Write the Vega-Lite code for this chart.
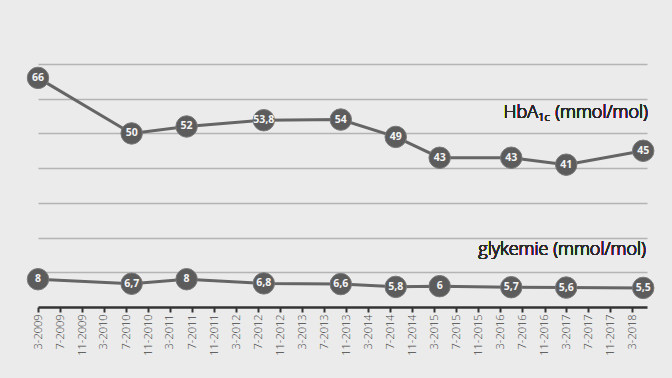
{
  "$schema": "https://vega.github.io/schema/vega-lite/v6.json",
  "width": 609,
  "height": 243,
  "autosize": {"type": "none"},
  "padding": {"left": 38, "top": 64, "right": 25, "bottom": 71},
  "background": "#ebebeb",
  "config": {
    "view": {"stroke": null},
    "locale": {"number": {"decimal": ",", "thousands": " ", "grouping": [3], "currency": ["", ""]}},
    "font": "Open Sans"
  },
  "data": {
    "values": [
      {"date": "2009/03/01", "series": "HbA1c", "value": 66},
      {"date": "2010/08/01", "series": "HbA1c", "value": 50},
      {"date": "2011/06/01", "series": "HbA1c", "value": 52},
      {"date": "2012/08/01", "series": "HbA1c", "value": 53.8},
      {"date": "2013/10/01", "series": "HbA1c", "value": 54},
      {"date": "2014/08/01", "series": "HbA1c", "value": 49},
      {"date": "2015/04/01", "series": "HbA1c", "value": 43},
      {"date": "2016/05/01", "series": "HbA1c", "value": 43},
      {"date": "2017/03/01", "series": "HbA1c", "value": 41},
      {"date": "2018/05/01", "series": "HbA1c", "value": 45},
      {"date": "2009/03/01", "series": "glykemie", "value": 8},
      {"date": "2010/08/01", "series": "glykemie", "value": 6.7},
      {"date": "2011/06/01", "series": "glykemie", "value": 8},
      {"date": "2012/08/01", "series": "glykemie", "value": 6.8},
      {"date": "2013/10/01", "series": "glykemie", "value": 6.6},
      {"date": "2014/08/01", "series": "glykemie", "value": 5.8},
      {"date": "2015/04/01", "series": "glykemie", "value": 6},
      {"date": "2016/05/01", "series": "glykemie", "value": 5.7},
      {"date": "2017/03/01", "series": "glykemie", "value": 5.6},
      {"date": "2018/05/01", "series": "glykemie", "value": 5.5}
    ]
  },
  "encoding": {
    "x": {
      "field": "date",
      "type": "temporal",
      "scale": {"domain": [{"year": 2009, "month": 3, "date": 1}, {"year": 2018, "month": 5, "date": 22}]},
      "axis": {
        "title": null,
        "grid": false,
        "values": [
          {"year": 2009, "month": 3, "date": 1}, {"year": 2009, "month": 7, "date": 1}, {"year": 2009, "month": 11, "date": 1},
          {"year": 2010, "month": 3, "date": 1}, {"year": 2010, "month": 7, "date": 1}, {"year": 2010, "month": 11, "date": 1},
          {"year": 2011, "month": 3, "date": 1}, {"year": 2011, "month": 7, "date": 1}, {"year": 2011, "month": 11, "date": 1},
          {"year": 2012, "month": 3, "date": 1}, {"year": 2012, "month": 7, "date": 1}, {"year": 2012, "month": 11, "date": 1},
          {"year": 2013, "month": 3, "date": 1}, {"year": 2013, "month": 7, "date": 1}, {"year": 2013, "month": 11, "date": 1},
          {"year": 2014, "month": 3, "date": 1}, {"year": 2014, "month": 7, "date": 1}, {"year": 2014, "month": 11, "date": 1},
          {"year": 2015, "month": 3, "date": 1}, {"year": 2015, "month": 7, "date": 1}, {"year": 2015, "month": 11, "date": 1},
          {"year": 2016, "month": 3, "date": 1}, {"year": 2016, "month": 7, "date": 1}, {"year": 2016, "month": 11, "date": 1},
          {"year": 2017, "month": 3, "date": 1}, {"year": 2017, "month": 7, "date": 1}, {"year": 2017, "month": 11, "date": 1},
          {"year": 2018, "month": 3, "date": 1}
        ],
        "format": "%-m-%Y",
        "labelAngle": -90,
        "labelFont": "Open Sans",
        "labelFontWeight": 300,
        "labelFontSize": 11,
        "labelColor": "#444444",
        "labelPadding": 2,
        "labelOverlap": false,
        "labelFlush": false,
        "tickSize": 5,
        "tickWidth": 2,
        "tickColor": "#333333",
        "domainColor": "#333333",
        "domainWidth": 2.5
      }
    },
    "y": {
      "field": "value",
      "type": "quantitative",
      "scale": {"domain": [0, 70], "nice": false},
      "axis": {
        "title": null,
        "labels": false,
        "ticks": false,
        "domain": false,
        "grid": true,
        "values": [10, 20, 30, 40, 50, 60, 70],
        "gridColor": "#b4b4b4",
        "gridWidth": 1.5
      }
    }
  },
  "layer": [
    {
      "mark": {"type": "line", "color": "#656565", "strokeWidth": 3, "clip": false},
      "encoding": {"detail": {"field": "series"}}
    },
    {
      "mark": {"type": "point", "shape": "circle", "filled": true, "size": 460, "color": "#5c5c5c", "opacity": 1, "stroke": "#7a7a7a", "strokeWidth": 1, "clip": false}
    },
    {
      "mark": {"type": "text", "color": "#f4f4f4", "font": "Open Sans", "fontWeight": "bold", "fontSize": 10.5, "baseline": "middle", "align": "center"},
      "encoding": {"text": {"field": "value", "type": "quantitative", "format": ".1~f"}}
    },
    {
      "mark": {"type": "text", "text": "(mmol/mol)", "align": "right", "baseline": "alphabetic", "font": "Open Sans", "fontWeight": 300, "fontSize": 18, "color": "#2a2a2a", "dx": 1},
      "encoding": {
        "x": {"datum": {"year": 2018, "month": 5, "date": 22}, "type": "temporal"},
        "y": {"datum": 54.5, "type": "quantitative"}
      }
    },
    {
      "mark": {"type": "text", "text": "1c", "align": "right", "baseline": "alphabetic", "font": "Open Sans", "fontWeight": 300, "fontSize": 11.5, "color": "#2a2a2a", "dx": -97, "dy": 3},
      "encoding": {
        "x": {"datum": {"year": 2018, "month": 5, "date": 22}, "type": "temporal"},
        "y": {"datum": 54.5, "type": "quantitative"}
      }
    },
    {
      "mark": {"type": "text", "text": "HbA", "align": "right", "baseline": "alphabetic", "font": "Open Sans", "fontWeight": 300, "fontSize": 18, "color": "#2a2a2a", "dx": -109},
      "encoding": {
        "x": {"datum": {"year": 2018, "month": 5, "date": 22}, "type": "temporal"},
        "y": {"datum": 54.5, "type": "quantitative"}
      }
    },
    {
      "mark": {"type": "text", "text": "glykemie (mmol/mol)", "align": "right", "baseline": "alphabetic", "font": "Open Sans", "fontWeight": 300, "fontSize": 18, "color": "#2a2a2a", "dx": -1},
      "encoding": {
        "x": {"datum": {"year": 2018, "month": 5, "date": 22}, "type": "temporal"},
        "y": {"datum": 15, "type": "quantitative"}
      }
    }
  ]
}
